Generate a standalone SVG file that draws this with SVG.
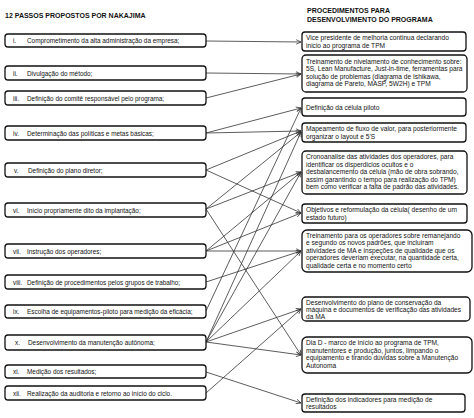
<svg xmlns="http://www.w3.org/2000/svg" width="474" height="418" viewBox="0 0 474 418">
<style>
text{font-family:"Liberation Sans",Arial,sans-serif;font-size:6.4px;fill:#111}
.r text{font-size:6.6px}
.t{font-weight:bold;font-size:7px}
.b{fill:#fff;stroke:#111;stroke-width:1.3}
.c line{stroke:#333;stroke-width:0.8;marker-end:url(#a)}
</style>
<defs>
<marker id="a" viewBox="0 0 8 8" refX="7.5" refY="4" markerWidth="6" markerHeight="6" markerUnits="userSpaceOnUse" orient="auto">
<path d="M1,1 L7.5,4 L1,7" fill="none" stroke="#333" stroke-width="1"/>
</marker>
</defs>
<rect width="474" height="418" fill="#fff"/>
<text class="t" x="5" y="17.5">12 PASSOS PROPOSTOS POR NAKAJIMA</text>
<text class="t" x="307" y="13">PROCEDIMENTOS PARA</text>
<text class="t" x="307" y="22">DESENVOLVIMENTO DO PROGRAMA</text>

<g class="c" id="connectors">
<line x1="206" y1="41" x2="301" y2="42"/>
<line x1="206" y1="73" x2="301" y2="74"/>
<line x1="206" y1="98" x2="301" y2="74"/>
<line x1="206" y1="133" x2="301" y2="108"/>
<line x1="206" y1="133" x2="301" y2="131"/>
<line x1="206" y1="170" x2="301" y2="131"/>
<line x1="206" y1="170" x2="301" y2="213"/>
<line x1="206" y1="209" x2="301" y2="132"/>
<line x1="206" y1="209" x2="301" y2="172"/>
<line x1="206" y1="209" x2="301" y2="355"/>
<line x1="206" y1="251" x2="301" y2="172"/>
<line x1="206" y1="251" x2="301" y2="213"/>
<line x1="206" y1="251" x2="301" y2="251"/>
<line x1="206" y1="282" x2="301" y2="251"/>
<line x1="206" y1="311" x2="301" y2="108"/>
<line x1="206" y1="342" x2="301" y2="132"/>
<line x1="206" y1="342" x2="301" y2="172"/>
<line x1="206" y1="342" x2="301" y2="251"/>
<line x1="206" y1="342" x2="301" y2="309"/>
<line x1="206" y1="342" x2="301" y2="355"/>
<line x1="206" y1="372" x2="301" y2="403"/>
<line x1="206" y1="393" x2="301" y2="309"/>
</g>

<g id="s1"><rect class="b" x="5" y="34" width="201" height="13" rx="3"/><text x="13" y="43">i.</text><text x="27" y="43">Comprometimento da alta administração da empresa;</text></g>
<g id="s2"><rect class="b" x="5" y="66" width="201" height="14" rx="3"/><text x="13" y="75.5">ii.</text><text x="27" y="75.5">Divulgação do método;</text></g>
<g id="s3"><rect class="b" x="5" y="91" width="201" height="14" rx="3"/><text x="13" y="100.5">iii.</text><text x="27" y="100.5">Definição do comitê responsável pelo programa;</text></g>
<g id="s4"><rect class="b" x="5" y="126" width="201" height="14" rx="3"/><text x="13" y="135.5">iv.</text><text x="27" y="135.5">Determinação das políticas e metas básicas;</text></g>
<g id="s5"><rect class="b" x="5" y="163" width="201" height="14" rx="3"/><text x="14" y="172.5">v.</text><text x="28" y="172.5">Definição do plano diretor;</text></g>
<g id="s6"><rect class="b" x="5" y="203" width="201" height="14" rx="3"/><text x="13" y="212.5">vi.</text><text x="27" y="212.5">Início propriamente dito da implantação;</text></g>
<g id="s7"><rect class="b" x="5" y="244" width="201" height="14" rx="3"/><text x="13" y="253.5">vii.</text><text x="27" y="253.5">Instrução dos operadores;</text></g>
<g id="s8"><rect class="b" x="5" y="275" width="201" height="14" rx="3"/><text x="13" y="284.5">viii.</text><text x="27" y="284.5">Definição de procedimentos pelos grupos de trabalho;</text></g>
<g id="s9"><rect class="b" x="5" y="305" width="201" height="13" rx="3"/><text x="13" y="314">ix.</text><text x="27" y="314">Escolha de equipamentos-piloto para medição da eficácia;</text></g>
<g id="s10"><rect class="b" x="5" y="335" width="201" height="15" rx="3"/><text x="15" y="344.5">x.</text><text x="28" y="344.5">Desenvolvimento da manutenção autônoma;</text></g>
<g id="s11"><rect class="b" x="5" y="365" width="201" height="13" rx="3"/><text x="13" y="374">xi.</text><text x="27" y="374">Medição dos resultados;</text></g>
<g id="s12"><rect class="b" x="5" y="386" width="201" height="14" rx="3"/><text x="13" y="395.5">xii.</text><text x="27" y="395.5">Realização da auditoria e retorno ao início do ciclo.</text></g>

<g class="r">
<g id="p1"><rect class="b" x="302" y="32" width="164" height="19" rx="3"/><text x="306" y="40">Vice presidente de melhoria continua declarando</text><text x="306" y="48">inicio ao programa de TPM</text></g>
<g id="p2"><rect class="b" x="302" y="55" width="165" height="37" rx="4"/><text x="306" y="63.5">Treinamento de nivelamento de conhecimento sobre:</text><text x="306" y="71">5S, Lean Manufacture, Just-in-time, ferramentas para</text><text x="306" y="78.5">solução de problemas (diagrama de Ishikawa,</text><text x="306" y="86">diagrama de Pareto, MASP, 5W2H) e TPM</text></g>
<g id="p3"><rect class="b" x="302" y="98" width="164" height="18" rx="3"/><text x="306" y="110">Definição da célula piloto</text></g>
<g id="p4"><rect class="b" x="302" y="123" width="164" height="19" rx="3"/><text x="306" y="131">Mapeamento de fluxo de valor, para posteriormente</text><text x="306" y="139">organizar o layout e 5'S</text></g>
<g id="p5"><rect class="b" x="302" y="151" width="165" height="43" rx="4"/><text x="306" y="159">Cronoanalise das atividades dos operadores, para</text><text x="306" y="166.5">identificar os disperdicios ocultos e o</text><text x="306" y="174">desbalancemento da célula (mão de obra sobrando,</text><text x="306" y="181.5">assim garantindo o tempo para realização do TPM)</text><text x="306" y="189">bem como verificar a falta de padrão das atividades.</text></g>
<g id="p6"><rect class="b" x="302" y="204" width="165" height="19" rx="3"/><text x="306" y="211.5">Objetivos e reformulação da célula( desenho de um</text><text x="306" y="219.5">estado futuro)</text></g>
<g id="p7"><rect class="b" x="302" y="230" width="170" height="42" rx="5"/><text x="306" y="237.5">Treinamento para os operadores sobre remanejando</text><text x="306" y="245">e  segundo os novos padrões, que incluiram</text><text x="306" y="252.5">atividades de MA e inspeções de qualidade que os</text><text x="306" y="260">operadores deveriam executar, na quantidade certa,</text><text x="306" y="267.5">qualidade certa e no momento certo</text></g>
<g id="p8"><rect class="b" x="302" y="297" width="168" height="24" rx="4"/><text x="306" y="304.5">Desenvolvimento do plano de conservação da</text><text x="306" y="312">máquina e documentos de verificação das atividades</text><text x="306" y="319">da MA</text></g>
<g id="p9"><rect class="b" x="302" y="337" width="170" height="36" rx="5"/><text x="306" y="345">Dia D - marco de início ao programa de TPM,</text><text x="306" y="352.5">manutentores e produção, juntos, limpando o</text><text x="306" y="360">equipamento e tirando dúvidas sobre a Manutenção</text><text x="306" y="367.5">Autonoma</text></g>
<g id="p10"><rect class="b" x="302" y="394" width="163" height="18" rx="3"/><text x="306" y="401.5">Definição dos indicadores para medição de</text><text x="306" y="409">resultados</text></g>
</g>
</svg>
